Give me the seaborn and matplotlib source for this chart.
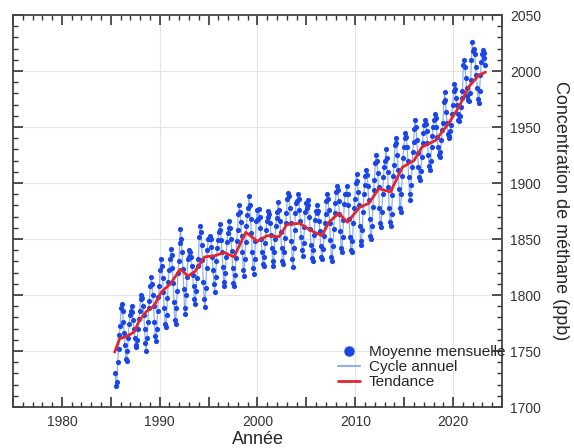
import numpy as np
import pandas as pd
import matplotlib
matplotlib.use("Agg")
import matplotlib.pyplot as plt
from matplotlib.lines import Line2D
from matplotlib.ticker import MultipleLocator, FuncFormatter
import seaborn as sns

# monthly means (ppb), first value = June 1985
start_year, start_month = 1985, 6
monthly_ppb = [
    1730, 1719, 1722, 1740, 1752, 1764, 1772,                          # 1985
    1788, 1792, 1786, 1776, 1766, 1755, 1743, 1741, 1750, 1762, 1774, 1782,  # 1986
    1786, 1790, 1785, 1778, 1770, 1762, 1754, 1755, 1760, 1770, 1779, 1786,  # 1987
    1796, 1800, 1797, 1790, 1782, 1770, 1757, 1750, 1762, 1776, 1788, 1795,  # 1988
    1808, 1816, 1810, 1800, 1790, 1776, 1763, 1759, 1770, 1786, 1798, 1808,  # 1989
    1822, 1832, 1826, 1815, 1803, 1788, 1774, 1771, 1782, 1797, 1812, 1822,  # 1990
    1832, 1841, 1836, 1824, 1811, 1794, 1778, 1774, 1788, 1804, 1820, 1830,  # 1991
    1846, 1859, 1850, 1838, 1823, 1805, 1788, 1783, 1800, 1816, 1832, 1840,  # 1992
    1834, 1838, 1834, 1826, 1818, 1808, 1796, 1792, 1804, 1815, 1826, 1832,  # 1993
    1852, 1862, 1856, 1845, 1831, 1812, 1796, 1789, 1806, 1824, 1840, 1850,  # 1994
    1850, 1853, 1850, 1843, 1834, 1822, 1810, 1803, 1816, 1830, 1842, 1849,  # 1995
    1856, 1863, 1858, 1849, 1838, 1825, 1812, 1808, 1820, 1834, 1847, 1855,  # 1996
    1860, 1866, 1860, 1850, 1839, 1824, 1811, 1808, 1818, 1833, 1848, 1858,  # 1997
    1872, 1880, 1874, 1865, 1853, 1838, 1822, 1817, 1832, 1847, 1862, 1871,  # 1998
    1878, 1888, 1880, 1868, 1855, 1838, 1824, 1819, 1832, 1848, 1866, 1876,  # 1999
    1868, 1877, 1870, 1860, 1850, 1838, 1828, 1826, 1834, 1846, 1858, 1866,  # 2000
    1870, 1875, 1872, 1864, 1854, 1842, 1830, 1826, 1838, 1850, 1862, 1869,  # 2001
    1874, 1883, 1876, 1866, 1856, 1842, 1830, 1828, 1838, 1851, 1864, 1873,  # 2002
    1886, 1891, 1888, 1878, 1864, 1848, 1832, 1825, 1842, 1858, 1873, 1882,  # 2003
    1884, 1890, 1886, 1876, 1866, 1852, 1840, 1835, 1846, 1861, 1874, 1882,  # 2004
    1878, 1885, 1880, 1870, 1859, 1845, 1833, 1830, 1840, 1854, 1867, 1875,  # 2005
    1873, 1880, 1875, 1866, 1857, 1844, 1834, 1832, 1841, 1853, 1864, 1872,  # 2006
    1884, 1890, 1886, 1876, 1864, 1849, 1834, 1830, 1844, 1859, 1873, 1882,  # 2007
    1892, 1897, 1894, 1884, 1872, 1857, 1842, 1838, 1852, 1867, 1881, 1890,  # 2008
    1890, 1897, 1890, 1880, 1868, 1852, 1840, 1838, 1848, 1864, 1878, 1886,  # 2009
    1900, 1908, 1902, 1892, 1880, 1862, 1848, 1845, 1858, 1874, 1890, 1898,  # 2010
    1906, 1912, 1907, 1897, 1885, 1868, 1853, 1850, 1862, 1879, 1894, 1903,  # 2011
    1918, 1925, 1920, 1909, 1896, 1878, 1864, 1861, 1874, 1890, 1905, 1914,  # 2012
    1920, 1930, 1922, 1910, 1896, 1878, 1865, 1862, 1872, 1889, 1906, 1916,  # 2013
    1934, 1940, 1936, 1925, 1912, 1895, 1878, 1874, 1890, 1906, 1922, 1932,  # 2014
    1940, 1945, 1941, 1932, 1920, 1905, 1890, 1885, 1898, 1914, 1928, 1937,  # 2015
    1948, 1956, 1950, 1938, 1927, 1914, 1905, 1903, 1911, 1923, 1936, 1945,  # 2016
    1952, 1956, 1953, 1946, 1936, 1925, 1915, 1912, 1920, 1932, 1942, 1950,  # 2017
    1956, 1962, 1958, 1950, 1941, 1932, 1925, 1923, 1928, 1938, 1947, 1954,  # 2018
    1972, 1981, 1974, 1963, 1954, 1944, 1940, 1942, 1946, 1952, 1962, 1970,  # 2019
    1982, 1988, 1984, 1976, 1970, 1962, 1956, 1955, 1960, 1968, 1976, 1982,  # 2020
    2005, 2010, 2004, 1994, 1985, 1978, 1974, 1973, 1980, 1992, 2010, 2026,  # 2021
    2018, 2020, 2015, 2004, 1996, 1985, 1975, 1971, 1982, 1996, 2008, 2015,  # 2022
    2019, 2016, 2012, 2005,                                                  # 2023
]

# trend curve
trend_year = [1985.4, 1985.9, 1986.6, 1987.4, 1987.9, 1988.6, 1989.4, 1990.2,
              1991.1, 1992.1, 1992.9, 1993.6, 1994.6, 1995.6, 1996.6, 1997.6,
              1998.8, 2000.0, 2001.0, 2002.2, 2003.0, 2004.3, 2005.6, 2006.6,
              2007.3, 2008.3, 2009.2, 2010.4, 2011.4, 2012.4, 2013.6, 2014.8,
              2016.0, 2016.8, 2018.2, 2019.6, 2020.6, 2021.6, 2022.6, 2023.3]
trend_ppb = [1749, 1761, 1763, 1767, 1777, 1785, 1790, 1803,
             1810, 1823, 1817, 1821, 1834, 1835, 1838, 1834,
             1856, 1848, 1853, 1852, 1863, 1864, 1857, 1853,
             1865, 1873, 1865, 1878, 1882, 1895, 1892, 1914,
             1920, 1932, 1938, 1954, 1968, 1986, 1996, 1999]

month_idx = np.arange(len(monthly_ppb)) + (start_month - 1)
df = pd.DataFrame({"annee": start_year + (month_idx + 0.5) / 12,
                   "ch4": monthly_ppb})
trend_df = pd.DataFrame({"annee": trend_year, "ch4": trend_ppb})

dot_color = "#1a46e8"
cycle_color = "#8fb0f0"
trend_color = "#e3262a"

sns.set_style("white")
plt.rcParams["font.family"] = ["Liberation Sans", "DejaVu Sans"]

fig = plt.figure(figsize=(5.74, 4.48), dpi=100)
ax = fig.add_axes([0.0226, 0.0915, 0.852, 0.875])

# light grid
for gx in [1990, 2000, 2010, 2020]:
    ax.axvline(gx, color="#e4e4e4", lw=0.8, zorder=0)
ax.yaxis.grid(True, which="major", color="#e4e4e4", lw=0.8, zorder=0)
ax.set_axisbelow(True)

sns.lineplot(data=df, x="annee", y="ch4", ax=ax, color=cycle_color, lw=0.9,
             sort=False, estimator=None, legend=False, zorder=2)
sns.scatterplot(data=df, x="annee", y="ch4", ax=ax, color=dot_color, s=14,
                linewidth=0, legend=False, zorder=3)
sns.lineplot(data=trend_df, x="annee", y="ch4", ax=ax, color=trend_color, lw=2,
             sort=False, estimator=None, legend=False, zorder=4)

ax.set_xlim(1975, 2025)
ax.set_ylim(1700, 2050)

ax.xaxis.set_major_locator(MultipleLocator(5))
ax.xaxis.set_minor_locator(MultipleLocator(1))
ax.xaxis.set_major_formatter(FuncFormatter(lambda v, p: f"{int(v)}" if int(round(v)) % 10 == 0 else ""))
ax.yaxis.set_major_locator(MultipleLocator(50))
ax.yaxis.set_minor_locator(MultipleLocator(10))

ax.tick_params(axis="x", which="both", direction="in", top=True, bottom=True,
               labelsize=10, colors="#333333", pad=6)
ax.tick_params(axis="y", which="both", direction="in", left=True, right=True,
               labelleft=False, labelright=True, labelsize=10, colors="#333333", pad=6)
ax.tick_params(which="major", length=7, width=1.2)
ax.tick_params(which="minor", length=3.5, width=1)
for sp in ax.spines.values():
    sp.set_color("#444444")
    sp.set_linewidth(1.3)

ax.set_xlabel("Année", fontsize=13, labelpad=1)
ax.set_ylabel("")
fig.text(0.976, 0.53, "Concentration de méthane (ppb)", rotation=-90,
         ha="center", va="center", fontsize=13)

handles = [
    Line2D([], [], ls="none", marker="o", markersize=6.5, color=dot_color),
    Line2D([], [], color=cycle_color, lw=1.5),
    Line2D([], [], color=trend_color, lw=2),
]
ax.legend(handles, ["Moyenne mensuelle", "Cycle annuel", "Tendance"],
          loc="upper left", bbox_to_anchor=(0.665, 0.157), frameon=False,
          fontsize=11, handlelength=1.4, handletextpad=0.6, labelspacing=0.05,
          borderpad=0, borderaxespad=0)

fig.savefig("out.png", dpi=100)
